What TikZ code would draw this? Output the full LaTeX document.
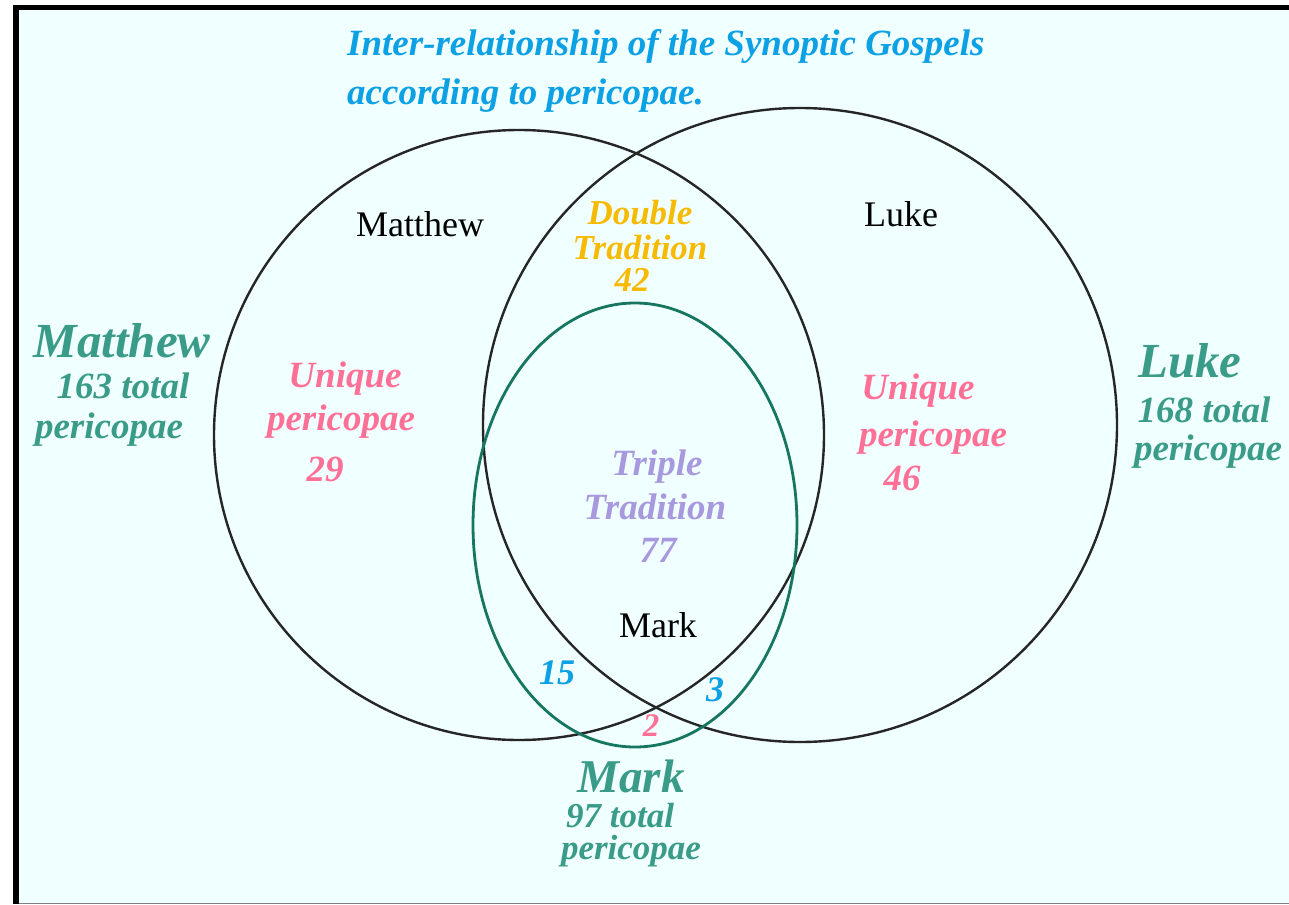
\documentclass[tikz,border=0pt]{standalone}
\usepackage{fontspec}
\setmainfont{Liberation Serif}
\definecolor{paper}{RGB}{240,255,255}
\definecolor{headblue}{RGB}{12,160,228}
\definecolor{gospelteal}{RGB}{58,156,136}
\definecolor{markline}{RGB}{22,118,98}
\definecolor{doublegold}{RGB}{246,186,0}
\definecolor{uniquepink}{RGB}{255,112,150}
\definecolor{triplelav}{RGB}{168,152,222}
\tikzset{
  lbl/.style={anchor=base,inner sep=0pt,font=\fontsize{#1}{#1}\selectfont\bfseries\itshape},
  plain/.style={anchor=base,inner sep=0pt,font=\fontsize{36}{36}\selectfont},
  setline/.style={line width=2.4pt,draw=black!85}
}
\begin{document}
\begin{tikzpicture}[x=1pt,y=-1pt]
\useasboundingbox (0,0) rectangle (1289,904);
% frame
\fill[paper] (19,10) rectangle (1289,903);
\fill[black] (13,5) rectangle (19,904);
\fill[black] (13,5) rectangle (1289,10);
\draw[gray,line width=1pt] (19,903.5) -- (1289,903.5);
% title
\node[lbl=37,anchor=base west,text=headblue] (title1) at (347,56) {Inter-relationship of the Synoptic Gospels};
\node[lbl=37,anchor=base west,text=headblue] (title2) at (347,105) {according to pericopae.};
% circles
\draw[setline] (519,435) circle (305);
\draw[setline] (800,425) circle (317);
\draw[line width=2.8pt,draw=markline] (635,525) ellipse (162 and 222);
% names inside
\node[plain] (mattin) at (420,236) {Matthew};
\node[plain] (lukein) at (901,226) {Luke};
\node[plain] (markin) at (658,637) {Mark};
% double tradition
\node[lbl=35,text=doublegold] (dbl1) at (640,224) {Double};
\node[lbl=35,text=doublegold] (dbl2) at (640,259) {Tradition};
\node[lbl=35,text=doublegold] (dbl3) at (632,291) {42};
% unique matthew
\node[lbl=37,text=uniquepink] (um1) at (345,387) {Unique};
\node[lbl=37,text=uniquepink] (um2) at (341,430) {pericopae};
\node[lbl=37,text=uniquepink] (um3) at (325,481) {29};
% unique luke
\node[lbl=37,text=uniquepink] (ul1) at (918,399) {Unique};
\node[lbl=37,text=uniquepink] (ul2) at (933,446) {pericopae};
\node[lbl=37,text=uniquepink] (ul3) at (902,490) {46};
% triple tradition
\node[lbl=37,text=triplelav] (tri1) at (657,475) {Triple};
\node[lbl=37,text=triplelav] (tri2) at (655,519) {Tradition};
\node[lbl=37,text=triplelav] (tri3) at (658,562) {77};
% small counts
\node[lbl=36,text=headblue] (mm) at (557,684) {15};
\node[lbl=36,text=headblue] (ml) at (715,701) {3};
\node[lbl=33,text=uniquepink] (mo) at (651,736) {2};
% totals
\node[lbl=49,text=gospelteal] (mattot1) at (122,357) {Matthew};
\node[lbl=37,text=gospelteal] (mattot2) at (123,398) {163 total};
\node[lbl=37,text=gospelteal] (mattot3) at (109,438) {pericopae};
\node[lbl=49,text=gospelteal] (luktot1) at (1190,377) {Luke};
\node[lbl=37,text=gospelteal] (luktot2) at (1204,422) {168 total};
\node[lbl=37,text=gospelteal] (luktot3) at (1208,460) {pericopae};
\node[lbl=47,text=gospelteal] (martot1) at (631,792) {Mark};
\node[lbl=35,text=gospelteal] (martot2) at (620,827) {97 total};
\node[lbl=35,text=gospelteal] (martot3) at (631,859) {pericopae};
\end{tikzpicture}
\end{document}
